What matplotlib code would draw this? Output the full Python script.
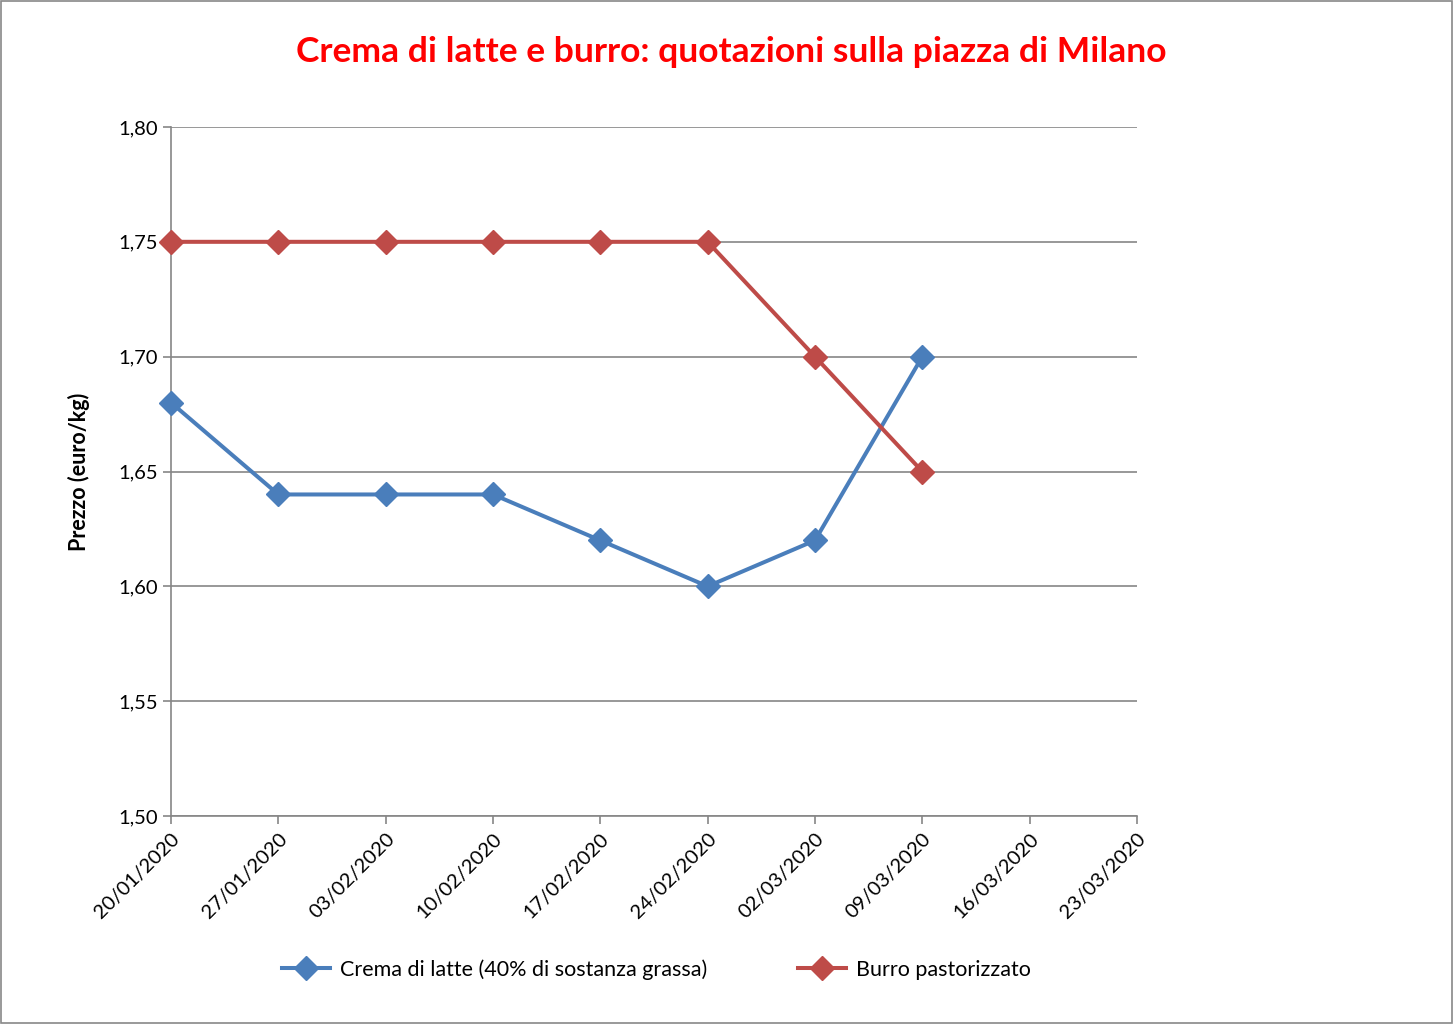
import matplotlib.pyplot as plt
from matplotlib.patches import Rectangle

dates = ['20/01/2020', '27/01/2020', '03/02/2020', '10/02/2020', '17/02/2020',
         '24/02/2020', '02/03/2020', '09/03/2020', '16/03/2020', '23/03/2020']
crema = [1.68, 1.64, 1.64, 1.64, 1.62, 1.60, 1.62, 1.70]
burro = [1.75, 1.75, 1.75, 1.75, 1.75, 1.75, 1.70, 1.65]
yticks = [1.50, 1.55, 1.60, 1.65, 1.70, 1.75, 1.80]

plt.rcParams['font.family'] = ['Lato', 'DejaVu Sans']

fig = plt.figure(figsize=(14.53, 10.24), dpi=100)
fig.patches.append(Rectangle((0.0005, 0.0007), 0.999, 0.9986, transform=fig.transFigure,
                             fill=False, edgecolor='#888888', linewidth=1.2))
ax = fig.add_axes([0.1177, 0.2031, 0.6648, 0.6729])

x = list(range(len(dates)))
ax.plot(x[:len(crema)], crema, color='#4A7EBB', lw=2.9, marker='D', ms=12,
        label='Crema di latte (40% di sostanza grassa)', zorder=3, clip_on=False)
ax.plot(x[:len(burro)], burro, color='#BE4B48', lw=2.9, marker='D', ms=12,
        label='Burro pastorizzato', zorder=3, clip_on=False)

ax.set_xlim(0, len(dates) - 1)
ax.set_ylim(1.50, 1.80)
ax.set_xticks(x)
ax.set_xticklabels(dates, rotation=45, ha='right', rotation_mode='anchor', fontsize=14.5)
ax.set_yticks(yticks)
ax.set_yticklabels([f'{v:.2f}'.replace('.', ',') for v in yticks], fontsize=14.5)
ax.grid(axis='y', color='#868686', lw=1.2)
ax.set_axisbelow(True)
for s in ['top', 'right']:
    ax.spines[s].set_visible(False)
for s in ['left', 'bottom']:
    ax.spines[s].set_color('#868686')
    ax.spines[s].set_linewidth(1.2)
ax.tick_params(axis='both', color='#868686', length=6, width=1.2, direction='out')
ax.tick_params(axis='x', pad=4)
ax.set_ylabel('Prezzo (euro/kg)', fontsize=15.5, fontweight='bold', labelpad=20)

fig.text(0.503, 0.949, 'Crema di latte e burro: quotazioni sulla piazza di Milano',
         ha='center', va='center', color='#FF0000', fontsize=25.5, fontweight='bold')

fig.legend(loc='center', bbox_to_anchor=(0.452, 0.053), ncol=2, frameon=False,
           fontsize=15.5, handlelength=2.2, handletextpad=0.5, columnspacing=4.2)

fig.savefig('out.png', dpi=100)
